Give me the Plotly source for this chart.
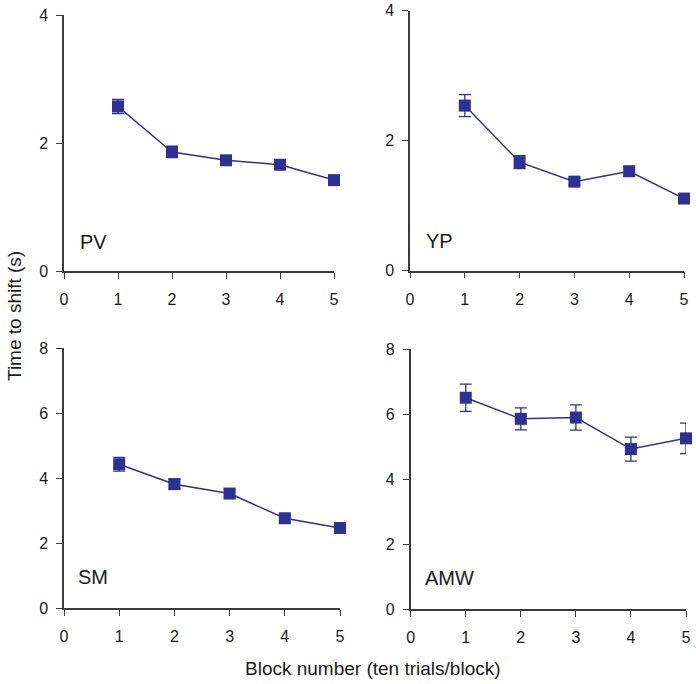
import plotly.graph_objects as go

blocks = [1, 2, 3, 4, 5]

pv_mean = [2.57, 1.86, 1.73, 1.66, 1.42]
pv_err = [0.11, 0.09, 0.06, 0.05, 0.06]

yp_mean = [2.54, 1.67, 1.37, 1.53, 1.11]
yp_err = [0.17, 0.10, 0.05, 0.07, 0.05]

sm_mean = [4.43, 3.82, 3.53, 2.77, 2.47]
sm_err = [0.21, 0.15, 0.12, 0.10, 0.12]

amw_mean = [6.51, 5.86, 5.90, 4.93, 5.26]
amw_err = [0.42, 0.34, 0.39, 0.37, 0.47]

panel_names = ["PV", "YP", "SM", "AMW"]
x_ticks = [0, 1, 2, 3, 4, 5]
y_ticks_top = [0, 2, 4]
y_ticks_bottom = [0, 2, 4, 6, 8]

W, H = 696, 684
color = "#2E3192"
axis_color = "#3a3a3a"
font_family = "Liberation Sans, Arial, Helvetica, sans-serif"

# pixel boxes: (x0, x1, ytop, ybottom)
boxes = [
    (64, 334, 15, 271),
    (410, 684, 10.7, 270.7),
    (64, 340, 348.3, 608.3),
    (410.7, 686, 349.3, 609.3),
]
label_pos = [(0.052, 0.113), (0.052, 0.113), (0.045, 0.12), (0.045, 0.12)]
yranges = [[0, 4], [0, 4], [0, 8], [0, 8]]
yticks = [y_ticks_top, y_ticks_top, y_ticks_bottom, y_ticks_bottom]
series = [(pv_mean, pv_err), (yp_mean, yp_err), (sm_mean, sm_err), (amw_mean, amw_err)]

fig = go.Figure()
layout = dict(
    template="none",
    width=W, height=H,
    margin=dict(l=0, r=0, t=0, b=0, autoexpand=False),
    paper_bgcolor="white", plot_bgcolor="white",
    showlegend=False,
    font=dict(family=font_family, size=16, color="#1a1a1a"),
)
annotations = []
for i, ((x0, x1, yt, yb), (m, e)) in enumerate(zip(boxes, series)):
    n = "" if i == 0 else str(i + 1)
    xa = "x" + n
    ya = "y" + n
    fig.add_trace(go.Scatter(
        x=blocks, y=m,
        error_y=dict(type="data", array=e, visible=True, color=color, thickness=1.3, width=6),
        mode="lines+markers",
        line=dict(color=color, width=1.5),
        marker=dict(symbol="square", size=12, color=color, line=dict(width=0)),
        cliponaxis=False,
        xaxis=xa, yaxis=ya,
    ))
    layout["xaxis" + n] = dict(
        domain=[x0 / W, x1 / W], range=[0, 5], anchor=ya, automargin=False,
        tickvals=x_ticks, ticks="outside", ticklen=6, tickwidth=1.2, tickcolor=axis_color,
        showline=True, linecolor=axis_color, linewidth=1.5,
        showgrid=False, zeroline=False, ticklabelstandoff=7,
        tickfont=dict(size=16),
    )
    layout["yaxis" + n] = dict(
        domain=[1 - yb / H, 1 - yt / H], range=yranges[i], anchor=xa, automargin=False,
        tickvals=yticks[i], ticks="outside", ticklen=6, tickwidth=1.2, tickcolor=axis_color,
        showline=True, linecolor=axis_color, linewidth=1.5,
        showgrid=False, zeroline=False, ticklabelstandoff=5,
        tickfont=dict(size=16),
    )
    lx, ly = label_pos[i]
    annotations.append(dict(
        text=panel_names[i], xref=xa + " domain", yref=ya + " domain",
        x=lx, y=ly, xanchor="left", yanchor="middle", showarrow=False,
        font=dict(size=20, color="#1a1a1a"),
    ))

annotations.append(dict(
    text="Time to shift (s)", xref="paper", yref="paper",
    x=14 / W, y=1 - 316 / H, textangle=-90, showarrow=False,
    xanchor="center", yanchor="middle", font=dict(size=19),
))
annotations.append(dict(
    text="Block number (ten trials/block)", xref="paper", yref="paper",
    x=373 / W, y=1 - 668 / H, showarrow=False,
    xanchor="center", yanchor="middle", font=dict(size=19),
))
layout["annotations"] = annotations
fig.update_layout(**layout)
fig.write_html(
    "out.html",
    config={"displayModeBar": False},
    post_script="document.body.style.margin='0';document.body.style.overflow='hidden';",
)
